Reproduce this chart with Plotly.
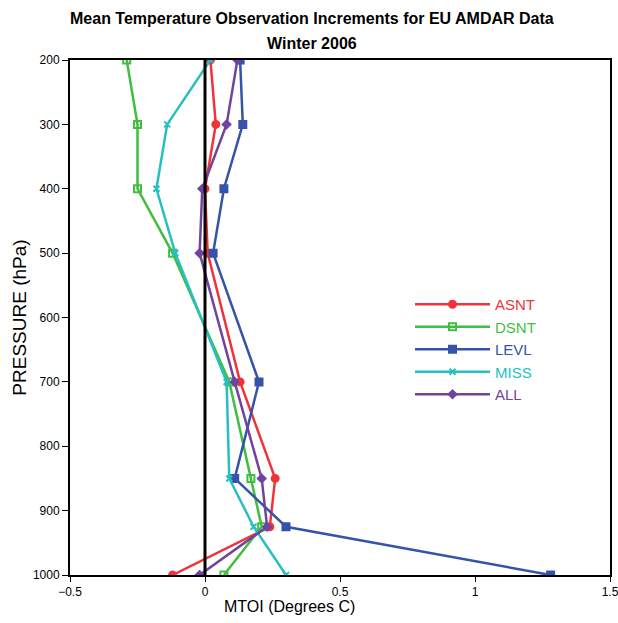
import plotly.graph_objects as go

pressure = [200, 300, 400, 500, 700, 850, 925, 1000]
asnt = [0.02, 0.04, 0.00, 0.01, 0.13, 0.26, 0.24, -0.12]
dsnt = [-0.29, -0.25, -0.25, -0.12, 0.09, 0.17, 0.21, 0.07]
levl = [0.13, 0.14, 0.07, 0.03, 0.20, 0.11, 0.30, 1.28]
miss = [0.02, -0.14, -0.18, -0.11, 0.08, 0.09, 0.18, 0.30]
allv = [0.12, 0.08, -0.01, -0.02, 0.11, 0.21, 0.23, -0.02]

title_lines = ["Mean Temperature Observation Increments for EU AMDAR Data", "Winter 2006"]

series = [
    ("ASNT", asnt, "#f0333a", "circle", 7),
    ("DSNT", dsnt, "#3fbf3f", "square-open", 7),
    ("LEVL", levl, "#3553a8", "square", 7),
    ("MISS", miss, "#26bfc4", "x-thin-open", 6),
    ("ALL", allv, "#7043a0", "diamond", 6),
]

L, R, T, B = 70, 8, 60, 48
W, H = 618, 623
PW, PH = W - L - R, H - T - B

fig = go.Figure()
for name, vals, col, sym, sz in series:
    fig.add_trace(go.Scatter(
        x=vals, y=pressure, mode="lines+markers",
        name=f'<span style="color:{col}">{name}</span>',
        line=dict(color=col, width=2.5),
        marker=dict(symbol=sym, size=sz, color=col, line=dict(color=col, width=2)),
    ))

fig.add_vline(x=0, line=dict(color="black", width=3))

# title lines
for txt, ypix in zip(title_lines, [18, 44]):
    fig.add_annotation(
        text=f"<b>{txt}</b>", xref="paper", yref="paper",
        x=(312 - L) / PW, y=1 + (T - ypix) / PH, xanchor="center", yanchor="middle",
        showarrow=False, font=dict(family="Liberation Sans", size=16, color="black"),
    )
# x-axis title
fig.add_annotation(
    text="MTOI (Degrees C)", xref="paper", yref="paper",
    x=(289 - L) / PW, y=-(606 - T - PH) / PH, xanchor="center", yanchor="middle",
    showarrow=False, font=dict(family="Liberation Sans", size=16, color="black"),
)

fig.update_layout(
    width=W, height=H,
    margin=dict(l=L, r=R, t=T, b=B),
    plot_bgcolor="white", paper_bgcolor="white",
    showlegend=True,
    legend=dict(
        x=(410 - L) / PW, y=1 - (288 - T) / PH, xanchor="left", yanchor="top",
        bgcolor="rgba(0,0,0,0)", font=dict(family="Liberation Sans", size=15),
        tracegroupgap=0, itemwidth=75,
    ),
    font=dict(family="Liberation Sans", color="black"),
)
fig.update_xaxes(
    range=[-0.5, 1.5], tickvals=[-0.5, 0, 0.5, 1, 1.5],
    ticktext=["\u22120.5", "0", "0.5", "1", "1.5"],
    showgrid=False, zeroline=False, automargin=False, ticklabeloverflow="allow",
    showline=True, linecolor="black", linewidth=2, mirror=True,
    ticks="outside", ticklen=5, tickcolor="black", tickfont=dict(size=12),
)
fig.update_yaxes(
    range=[1000, 200], tickvals=[200, 300, 400, 500, 600, 700, 800, 900, 1000],
    showgrid=False, zeroline=False, automargin=False,
    showline=True, linecolor="black", linewidth=2, mirror=True,
    ticks="outside", ticklen=6, tickcolor="black", tickfont=dict(size=12),
    title=dict(text="PRESSURE (hPa)", font=dict(size=19), standoff=1),
)

fig.write_html("out.html")
